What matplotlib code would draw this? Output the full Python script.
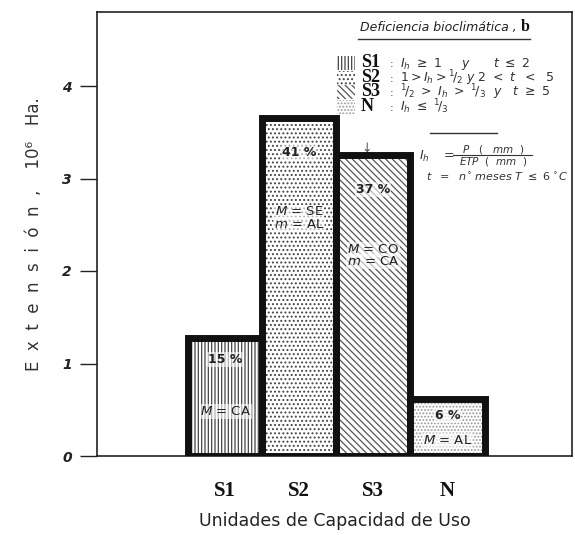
import matplotlib
matplotlib.use('Agg')
import matplotlib.pyplot as plt
from matplotlib.patches import Rectangle
from matplotlib.lines import Line2D

# ---- data ----
categories = ['S1', 'S2', 'S3', 'N']
extension = [1.28, 3.65, 3.25, 0.62]          # 10^6 Ha
percent_labels = ['15 %', '41 %', '37 %', '6 %']
major_labels = ['$M$ = CA', '$M$ = SE', '$M$ = CO', '$M$ = AL']
minor_labels = ['', '$m$ = AL', '$m$ = CA', '']
ytick_values = [0, 1, 2, 3, 4]
ytick_labels = ['0', '1', '2', '3', '4']
legend_rows = ['S1', 'S2', 'S3', 'N']
legend_conditions = [
    r'$I_h\ \geq\ 1\ \ \ \ \ y\ \ \ \ \ \ t\ \leq\ 2$',
    r'$1 > I_h > {}^{1}\!/_{2}\ y\ 2\ <\ t\ \ <\ \ 5$',
    r'$^{1}\!/_{2}\ >\ I_h\ >\ {}^{1}\!/_{3}\ \ y\ \ \ t\ \geq\ 5$',
    r'$I_h\ \leq\ {}^{1}\!/_{3}$',
]

# ---- styles ----
hatches = ['|||||', '....', '\\\\\\\\\\', '.....']
hatch_colors = ['#444444', '#444444', '#555555', '#9a9a9a']
plt.rcParams['mathtext.fontset'] = 'dejavusans'
plt.rcParams['hatch.linewidth'] = 0.9

W, H = 575, 535
fig = plt.figure(figsize=(W / 100, H / 100), dpi=100)
ax = fig.add_axes([97 / W, 1 - 456 / H, (572 - 97) / W, (456 - 12) / H])

x = list(range(len(categories)))
under = ax.bar(x, extension, width=1.0, color='white', linewidth=0, zorder=2)
for p, h, c in zip(under, hatches, hatch_colors):
    p.set_hatch(h)
    p.set_edgecolor(c)
ax.bar(x, extension, width=1.0, fill=False, edgecolor='#111111', linewidth=5.0, zorder=3)

ax.set_xlim(-1.73, 4.68)
ax.set_ylim(0, 4.8)

# annotation positions (layout)
pct_y = [1.04, 3.28, 2.88, 0.44]
maj_y = [0.48, 2.64, 2.23, 0.17]
min_y = [None, 2.50, 2.10, None]
box = dict(facecolor='white', edgecolor='none', pad=0.6, alpha=0.6)
for i in x:
    ax.text(i, pct_y[i], percent_labels[i], ha='center', va='center', fontsize=9,
            fontweight='bold', color='#222222', zorder=4, bbox=box)
    ax.text(i, maj_y[i], major_labels[i], ha='center', va='center', fontsize=9.5,
            color='#222222', zorder=4, bbox=box)
    if minor_labels[i]:
        ax.text(i, min_y[i], minor_labels[i], ha='center', va='center', fontsize=9.5,
                color='#222222', zorder=4, bbox=box)

# axes styling
for s in ax.spines.values():
    s.set_linewidth(1.2)
    s.set_color('#222222')
ax.set_yticks(ytick_values)
ax.set_yticklabels(ytick_labels, fontstyle='italic', fontweight='bold', fontsize=10, color='#222222')
ax.tick_params(axis='y', direction='out', length=12, width=1, pad=6, colors='#222222')
ax.set_xticks(x)
ax.set_xticklabels(categories, family='Liberation Serif', fontweight='bold', fontsize=15, color='#111111')
ax.tick_params(axis='x', length=0, pad=18)
ax.set_xlabel('Unidades de Capacidad de Uso', fontsize=12.5, color='#222222', labelpad=8)
ax.set_ylabel('E  x  t  e  n  s  i  ó  n  ,    10⁶   Ha.', fontsize=12, color='#333333', labelpad=14)

# ---- legend / annotation block (figure pixel coords) ----
def fx(px):
    return px / W

def fy(py):
    return 1 - py / H

fig.text(fx(360), fy(28), 'Deficiencia bioclimática ,', fontstyle='italic', fontsize=9,
         color='#222222', va='center', ha='left')
fig.text(fx(521), fy(27), 'b', family='Liberation Serif', fontweight='bold', fontsize=11.5,
         color='#111111', va='center', ha='left')
fig.add_artist(Line2D([fx(358), fx(530)], [fy(39), fy(39)], color='#333333', lw=1))

row_base = [67, 82, 96, 111]
for yb, name, cond, h, c in zip(row_base, legend_rows, legend_conditions, hatches, hatch_colors):
    fig.add_artist(Rectangle((fx(337), fy(yb + 3)), 18 / W, 14 / H, transform=fig.transFigure,
                             facecolor='white', edgecolor=c, hatch=h, linewidth=0))
    fig.text(fx(361), fy(yb), name, family='Liberation Serif', fontweight='bold', fontsize=13,
             color='#111111', va='baseline', ha='left')
    fig.text(fx(392), fy(yb), ':', fontsize=8, color='#333333', va='baseline', ha='center')
    fig.text(fx(400), fy(yb), cond, fontsize=9, color='#333333', va='baseline', ha='left')

fig.text(fx(367), fy(148), '↓', fontsize=9, color='#555555', va='center', ha='center')
fig.add_artist(Line2D([fx(430), fx(497)], [fy(133), fy(133)], color='#333333', lw=1))
fig.text(fx(419), fy(156), r'$I_h\ \ \ =$', fontsize=9, color='#333333', va='center', ha='left')
fig.text(fx(493), fy(149), r'$P\ \ \ (\ \ \ mm\ \ )$', fontsize=7.5, color='#333333',
         va='center', ha='center')
fig.add_artist(Line2D([fx(453), fx(532)], [fy(155), fy(155)], color='#333333', lw=0.8))
fig.text(fx(493), fy(161), r'$ETP\ \ (\ \ mm\ \ )$', fontsize=7.5, color='#333333',
         va='center', ha='center')
fig.text(fx(426), fy(177), r'$t\ \ =\ \ n^{\circ}\ meses\ T\ \leq\ 6\ ^{\circ}C$',
         fontsize=8, color='#333333', va='center', ha='left')

fig.savefig('out.png', dpi=100)
